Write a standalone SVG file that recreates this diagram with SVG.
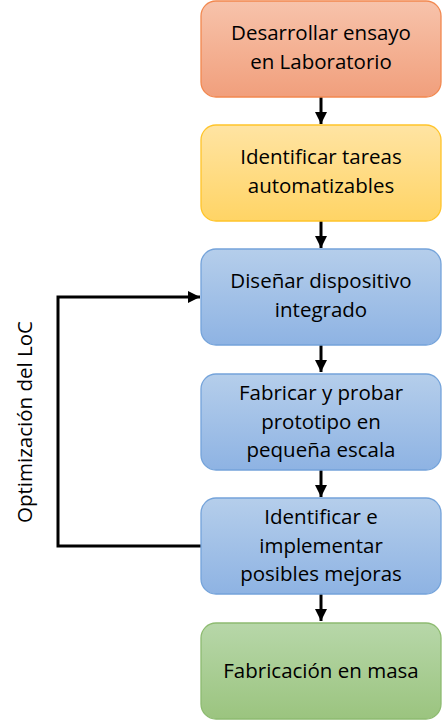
<svg xmlns="http://www.w3.org/2000/svg" width="442" height="720" viewBox="0 0 442 720">
<defs>
<linearGradient id="gOrange" x1="0" y1="0" x2="0" y2="1"><stop offset="0" stop-color="#F7C3AB"/><stop offset="1" stop-color="#F19F7C"/></linearGradient>
<linearGradient id="gYellow" x1="0" y1="0" x2="0" y2="1"><stop offset="0" stop-color="#FFE4A3"/><stop offset="1" stop-color="#FFD465"/></linearGradient>
<linearGradient id="gBlue" x1="0" y1="0" x2="0" y2="1"><stop offset="0" stop-color="#B5CEEB"/><stop offset="1" stop-color="#8EB3E3"/></linearGradient>
<linearGradient id="gGreen" x1="0" y1="0" x2="0" y2="1"><stop offset="0" stop-color="#B7D7A9"/><stop offset="1" stop-color="#9BC47F"/></linearGradient>
<marker id="arrow" viewBox="0 0 10 10" refX="10" refY="5" markerWidth="4" markerHeight="4" markerUnits="strokeWidth" orient="auto"><path d="M0,0 L10,5 L0,10 z" fill="#000"/></marker>
</defs>
<style>
.box{stroke-width:1.3}
.orange{fill:url(#gOrange);stroke:#F2884F}
.yellow{fill:url(#gYellow);stroke:#FFC42A}
.blue{fill:url(#gBlue);stroke:#74A3DA}
.green{fill:url(#gGreen);stroke:#8DBB70}
text{font-family:"Open Sans","Liberation Sans",sans-serif;font-size:20.5px;fill:#000;text-anchor:middle}
.conn{fill:none;stroke:#000;stroke-width:3}
</style>
<g id="connectors">
<line class="conn" x1="321" y1="97" x2="321" y2="124" marker-end="url(#arrow)"/>
<line class="conn" x1="321" y1="221" x2="321" y2="248" marker-end="url(#arrow)"/>
<line class="conn" x1="321" y1="345" x2="321" y2="372" marker-end="url(#arrow)"/>
<line class="conn" x1="321" y1="470" x2="321" y2="497" marker-end="url(#arrow)"/>
<line class="conn" x1="321" y1="594" x2="321" y2="621" marker-end="url(#arrow)"/>
<polyline class="conn" points="201,546 58,546 58,297 200,297" marker-end="url(#arrow)"/>
<text transform="translate(32,422) rotate(-90)">Optimización del LoC</text>
</g>
<g id="n1"><rect class="box orange" x="201" y="1" width="240" height="96" rx="15"/><text x="321" y="40">Desarrollar ensayo</text><text x="321" y="69">en Laboratorio</text></g>
<g id="n2"><rect class="box yellow" x="201" y="125" width="240" height="96" rx="15"/><text x="321" y="164">Identificar tareas</text><text x="321" y="193">automatizables</text></g>
<g id="n3"><rect class="box blue" x="201" y="249" width="240" height="96" rx="15"/><text x="321" y="288">Diseñar dispositivo</text><text x="321" y="317">integrado</text></g>
<g id="n4"><rect class="box blue" x="201" y="374" width="240" height="96" rx="15"/><text x="321" y="400">Fabricar y probar</text><text x="321" y="428.5">prototipo en</text><text x="321" y="457">pequeña escala</text></g>
<g id="n5"><rect class="box blue" x="201" y="498" width="240" height="96" rx="15"/><text x="321" y="524">Identificar e</text><text x="321" y="552.5">implementar</text><text x="321" y="581">posibles mejoras</text></g>
<g id="n6"><rect class="box green" x="201" y="623" width="240" height="96" rx="15"/><text x="321" y="678">Fabricación en masa</text></g>
</svg>
